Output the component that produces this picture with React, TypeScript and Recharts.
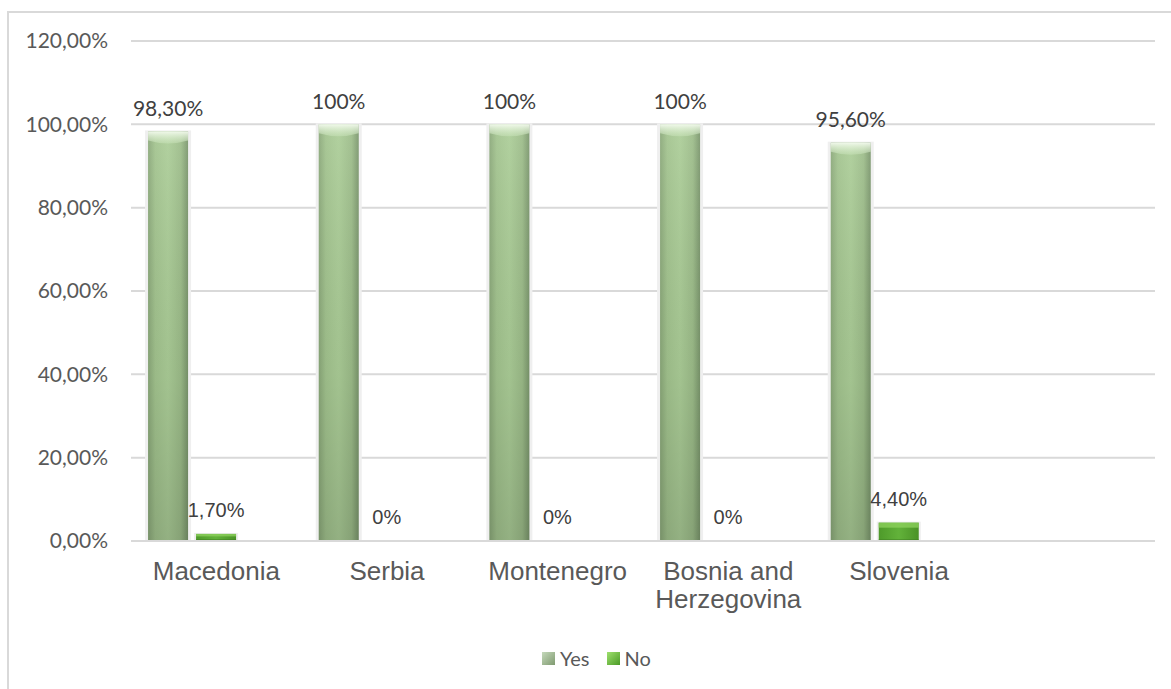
import React from "react";
import { Bar, BarChart, CartesianGrid, LabelList, Legend, Text, XAxis, YAxis } from "recharts";

const categories = ["Macedonia", "Serbia", "Montenegro", "Bosnia and Herzegovina", "Slovenia", ""];
const yesValues = [98.3, 100, 100, 100, 95.6, null];
const noValues = [1.7, 0, 0, 0, 4.4, null];
// third (empty) series keeps the slot Excel reserved next to "No"
const blankValues = [null, null, null, null, null, null];
const yesLabels = ["98,30%", "100%", "100%", "100%", "95,60%", null];
const noLabels = ["1,70%", "0%", "0%", "0%", "4,40%", null];
const yTicks = [0, 20, 40, 60, 80, 100, 120];

const data = categories.map((name, i) => ({
  name,
  yes: yesValues[i],
  no: noValues[i],
  blank: blankValues[i],
  yesLabel: yesLabels[i],
  noLabel: noLabels[i],
}));

const CALIBRI = "Lato, 'Open Sans', sans-serif";
const ARIAL = "'Liberation Sans', Arial, sans-serif";
const GRID = "#d9d9d9";

const pct = (v: number) => `${v.toFixed(2).replace(".", ",")}%`;

const YesShape = (p: any) => {
  const { x, y, width, height } = p;
  if (!height || height <= 0) return null;
  return (
    <g>
      <rect x={x - 3} y={y - 1} width={width + 6} height={height + 1} fill="#efefef" />
      <rect x={x} y={y} width={width} height={height} fill="url(#yesBody)" />
      <rect x={x} y={y} width={width} height={height} fill="url(#yesShade)" />
      <path
        d={`M${x},${y} L${x + width},${y} L${x + width},${y + 9} Q${x + width / 2},${y + 15} ${x},${y + 9} Z`}
        fill="url(#yesCap)"
      />
    </g>
  );
};

const NoShape = (p: any) => {
  const { x, y, width, height } = p;
  if (!height || height <= 0) return null;
  const cap = Math.min(5, height * 0.35);
  return (
    <g>
      <rect x={x - 2} y={y - 1} width={width + 4} height={height + 1} fill="#eeeeee" />
      <rect x={x} y={y} width={width} height={height} fill="url(#noBody)" />
      <rect x={x} y={y} width={width} height={cap} fill="#8fd35f" opacity={0.75} />
      <rect x={x} y={y + height - 1.5} width={width} height={1.5} fill="#3f7f22" />
    </g>
  );
};

const makeLabel = (font: string, size: number) => (p: any) => {
  const { x, y, width, value } = p;
  if (value == null) return null;
  return (
    <text
      x={x + width / 2}
      y={y - 24}
      textAnchor="middle"
      dominantBaseline="central"
      fontFamily={font}
      fontSize={size}
      fill="#404040"
    >
      {value}
    </text>
  );
};

const CategoryTick = (p: any) => {
  const { x, y, payload } = p;
  return (
    <Text
      x={x}
      y={y}
      width={160}
      textAnchor="middle"
      verticalAnchor="start"
      lineHeight={28}
      fontFamily={ARIAL}
      fontSize={26}
      style={{ fontFamily: ARIAL, fontSize: 26 }}
      fill="#595959"
    >
      {payload.value}
    </Text>
  );
};

const LegendBox = () => (
  <div
    style={{
      display: "flex",
      alignItems: "center",
      height: 30,
      fontFamily: CALIBRI,
      fontSize: 20,
      color: "#595959",
    }}
  >
    <span
      style={{
        width: 13,
        height: 13,
        background: "linear-gradient(135deg, #c5d9bb, #7f9a70)",
        marginRight: 5,
      }}
    />
    <span style={{ marginRight: 17 }}>Yes</span>
    <span
      style={{
        width: 13,
        height: 13,
        background: "linear-gradient(135deg, #9fe06e, #4a9a26)",
        marginRight: 5,
      }}
    />
    <span>No</span>
  </div>
);

export default function App() {
  return (
    <div
      style={{
        position: "absolute",
        left: 7,
        top: 11,
        width: 1164,
        height: 678,
        borderTop: `2px solid ${GRID}`,
        borderLeft: `2px solid ${GRID}`,
        background: "#ffffff",
      }}
    >
      <BarChart
        width={1162}
        height={676}
        data={data}
        margin={{ top: 28, right: 16, left: 0, bottom: 0 }}
        barCategoryGap="10%"
        barGap={8}
      >
        <defs>
          <linearGradient id="yesBody" x1="0" y1="0" x2="1" y2="0">
            <stop offset="0%" stopColor="#8aa879" />
            <stop offset="18%" stopColor="#a2c38e" />
            <stop offset="50%" stopColor="#abcd97" />
            <stop offset="82%" stopColor="#9cbc89" />
            <stop offset="100%" stopColor="#7a966c" />
          </linearGradient>
          <linearGradient id="yesShade" x1="0" y1="0" x2="0" y2="1">
            <stop offset="0%" stopColor="#ffffff" stopOpacity={0.08} />
            <stop offset="60%" stopColor="#000000" stopOpacity={0.05} />
            <stop offset="100%" stopColor="#000000" stopOpacity={0.14} />
          </linearGradient>
          <linearGradient id="yesCap" x1="0" y1="0" x2="0" y2="1">
            <stop offset="0%" stopColor="#f4fbef" stopOpacity={0.95} />
            <stop offset="100%" stopColor="#cfe8c0" stopOpacity={0.4} />
          </linearGradient>
          <linearGradient id="noBody" x1="0" y1="0" x2="1" y2="0">
            <stop offset="0%" stopColor="#4e9a2a" />
            <stop offset="50%" stopColor="#62b23a" />
            <stop offset="100%" stopColor="#4a9226" />
          </linearGradient>
        </defs>
        <CartesianGrid vertical={false} stroke={GRID} strokeWidth={2} />
        <XAxis
          dataKey="name"
          height={118}
          tickLine={false}
          axisLine={{ stroke: GRID, strokeWidth: 2 }}
          tickMargin={15}
          interval={0}
          tick={(p: any) => <CategoryTick {...p} />}
        />
        <YAxis
          width={122}
          domain={[0, 120]}
          ticks={yTicks}
          tickFormatter={pct}
          axisLine={false}
          tickLine={false}
          tickMargin={17}
          tick={{ fill: "#595959", fontSize: 21, fontFamily: CALIBRI }}
        />
        <Legend verticalAlign="bottom" content={<LegendBox />} wrapperStyle={{ left: 533, bottom: 16, width: "auto", height: 30 }} />
        <Bar dataKey="yes" name="Yes" fill="#9dbf88" shape={<YesShape />} isAnimationActive={false}>
          <LabelList dataKey="yesLabel" content={makeLabel(CALIBRI, 21)} />
        </Bar>
        <Bar dataKey="no" name="No" fill="#5aa832" shape={<NoShape />} isAnimationActive={false}>
          <LabelList dataKey="noLabel" content={makeLabel(ARIAL, 20)} />
        </Bar>
        <Bar dataKey="blank" name="" fill="transparent" legendType="none" isAnimationActive={false} />
      </BarChart>
    </div>
  );
}
